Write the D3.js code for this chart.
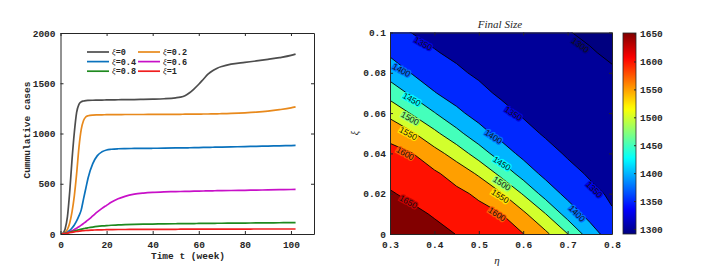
<!DOCTYPE html>
<html>
<head>
<meta charset="utf-8">
<script src="https://cdn.jsdelivr.net/npm/d3@7"></script>
<style>
  body { margin: 0; background: #fff; }
  text { font-family: "Liberation Mono", monospace; font-weight: bold; fill: #262626; }
  .domain, .tick line { stroke: #262626; }
</style>
</head>
<body>
<svg id="chart" width="701" height="278"></svg>
<script>
// ---- left panel data: cumulative cases per week, one array per xi value ----
var weeks = [1,2,3,4,5,6,7,8,9,10,11,12,14,16,18,20,22,25,28,32,36,40,45,50,52,54,56,58,60,62,64,66,68,70,74,80,85,90,95,100,102];
var xiNames = ["0", "0.2", "0.4", "0.6", "0.8", "1"];
var casesXi0  = [5,50,170,420,740,1010,1210,1290,1315,1323,1327,1329,1331,1332,1333,1334,1335,1336,1337,1338,1340,1342,1346,1355,1362,1376,1405,1445,1490,1540,1590,1625,1650,1667,1690,1708,1722,1738,1755,1777,1790];
var casesXi02 = [3,15,45,110,220,380,600,860,1040,1130,1165,1176,1183,1185,1186,1187,1188,1188,1189,1189,1189,1190,1190,1191,1191,1192,1192,1193,1193,1194,1194,1195,1196,1197,1200,1206,1213,1223,1237,1255,1265];
var casesXi04 = [2,8,18,35,60,90,130,180,240,350,455,560,700,780,818,836,843,848,850,851,852,853,854,856,857,857,858,859,860,861,862,863,864,865,867,870,872,875,877,880,881];
var casesXi06 = [2,6,12,22,32,45,58,72,88,105,122,140,180,220,255,285,315,350,375,396,407,414,419,422,423,424,425,426,427,428,429,430,431,432,433,435,437,439,441,443,444];
var casesXi08 = [2,6,11,17,23,30,36,42,48,53,58,62,69,75,80,84,87,90,93,96,98,99,101,102,103,103,104,104,105,105,106,106,107,107,108,109,110,111,112,113,114];
var casesXi1  = [2,5,9,13,17,21,25,28,31,33,35,37,39,41,42,43,44,45,45,46,46,47,47,47,48,48,48,48,48,48,49,49,49,49,49,49,50,50,50,50,50];
var weekTicks = [0, 20, 40, 60, 80, 100];
var caseTicks = [0, 500, 1000, 1500, 2000];

// ---- right panel data: final size over (eta, xi) grid, rows = xi ----
var etaValues = [0.3,0.35,0.4,0.45,0.5,0.55,0.6,0.65,0.7,0.75,0.8];
var xiValues  = [0,0.01,0.02,0.03,0.04,0.05,0.06,0.07,0.08,0.09,0.1];
var finalSize = [
  [1690,1676,1663,1649,1633,1617,1601,1561,1501,1424,1373],
  [1672,1660,1646,1630,1615,1601,1560,1501,1429,1383,1353],
  [1654,1640,1625,1611,1592,1554,1496,1430,1386,1359,1345],
  [1634,1621,1607,1581,1543,1487,1428,1387,1361,1346,1338],
  [1614,1601,1568,1528,1476,1424,1387,1362,1346,1338,1331],
  [1586,1555,1511,1464,1417,1385,1361,1346,1339,1331,1324],
  [1536,1495,1452,1410,1383,1360,1346,1339,1331,1324,1317],
  [1479,1440,1402,1380,1358,1345,1338,1331,1324,1317,1310],
  [1429,1397,1376,1355,1345,1338,1331,1324,1317,1310,1303],
  [1392,1372,1352,1344,1337,1330,1323,1316,1309,1302,1296],
  [1368,1349,1342,1336,1329,1322,1315,1308,1301,1296,1291]
];
var levels = [1300,1350,1400,1450,1500,1550,1600,1650];
var etaTicks = [0.3,0.4,0.5,0.6,0.7,0.8];
var xiTicks = [0,0.02,0.04,0.06,0.08,0.1];
var colorTicks = [1300,1350,1400,1450,1500,1550,1600,1650];
var colorRange = [1291, 1651];
// contour labels: level and where it sits (eta, xi)
var labelLevels = [1350,1300,1400,1450,1500,1550,1600,1650,1350,1400,1450,1500,1550,1600,1350,1400];
var labelEta = [0.375,0.729,0.326,0.349,0.345,0.341,0.334,0.341,0.578,0.533,0.552,0.552,0.548,0.541,0.760,0.721];
var labelXi  = [0.0945,0.0937,0.0813,0.0668,0.0574,0.0499,0.0400,0.0160,0.0598,0.0483,0.035,0.0251,0.0188,0.0098,0.0221,0.0102];

var svg = d3.select("#chart");

// ================= left panel =================
var lp = {left: 60.5, right: 314, top: 33, bottom: 234};
var xScale = d3.scaleLinear().domain([0, 110]).range([lp.left, lp.right]);
var yScale = d3.scaleLinear().domain([0, 2000]).range([lp.bottom, lp.top]);

var series = [casesXi0, casesXi02, casesXi04, casesXi06, casesXi08, casesXi1];
var lineColors = ["#4d4d4d", "#e8891c", "#0a72bd", "#c810c8", "#1f8a1f", "#f01e1e"];

// each curve starts at the origin
series.forEach(function(s, k) {
  svg.append("path")
    .datum([0].concat(s))
    .attr("fill", "none")
    .attr("stroke", lineColors[k])
    .attr("stroke-width", 1.7)
    .attr("d", d3.line()
      .x(function(d, i) { return xScale(i === 0 ? 0.5 : weeks[i - 1]); })
      .y(function(d) { return yScale(d); })
      .curve(d3.curveMonotoneX));
});

// axes with inward ticks on all four sides
function boxAxes(xs, ys, xt, yt, xfmt, yfmt, xpad, ypad) {
  svg.append("g").attr("transform", "translate(0," + ys.range()[0] + ")")
    .call(d3.axisBottom(xs).tickValues(xt).tickSizeInner(-3).tickSizeOuter(0).tickPadding(xpad).tickFormat(xfmt))
    .selectAll("text").style("font-size", "9.5px");
  svg.append("g").attr("transform", "translate(" + xs.range()[0] + ",0)")
    .call(d3.axisLeft(ys).tickValues(yt).tickSizeInner(-3).tickSizeOuter(0).tickPadding(ypad).tickFormat(yfmt))
    .selectAll("text").style("font-size", "9.5px");
  svg.append("g").attr("transform", "translate(0," + ys.range()[1] + ")")
    .call(d3.axisTop(xs).tickValues(xt).tickSizeInner(-3).tickSizeOuter(0).tickFormat(""));
  svg.append("g").attr("transform", "translate(" + xs.range()[1] + ",0)")
    .call(d3.axisRight(ys).tickValues(yt).tickSizeInner(-3).tickSizeOuter(0).tickFormat(""));
}
boxAxes(xScale, yScale, weekTicks, caseTicks, d3.format("d"), d3.format("d"), 7, 5);

svg.append("text")
  .attr("x", 188).attr("y", 259)
  .attr("text-anchor", "middle")
  .style("font-size", "9.5px")
  .text("Time t (week)");

svg.append("text")
  .attr("transform", "translate(30,130) rotate(-90)")
  .attr("text-anchor", "middle")
  .style("font-size", "9.5px")
  .text("Cummulative cases");

// legend, 2 columns x 3 rows
series.forEach(function(s, k) {
  var col = k % 2, row = Math.floor(k / 2);
  var lx = 87 + col * 51, ly = 52 + row * 9.6;
  svg.append("line")
    .attr("x1", lx).attr("x2", lx + 22).attr("y1", ly).attr("y2", ly)
    .attr("stroke", lineColors[k]).attr("stroke-width", 1.7);
  var t = svg.append("text").attr("x", lx + 25).attr("y", ly + 3).style("font-size", "8.5px");
  t.append("tspan").style("font-family", "Liberation Serif, serif").style("font-style", "italic").style("font-weight", "normal").text("ξ");
  t.append("tspan").text("=" + xiNames[k]);
});

// ================= right panel =================
var rp = {left: 390, right: 612, top: 32.5, bottom: 234};
var xr = d3.scaleLinear().domain([0.3, 0.8]).range([rp.left, rp.right]);
var yr = d3.scaleLinear().domain([0, 0.1]).range([rp.bottom, rp.top]);

function jet(t) {
  t = Math.max(0, Math.min(1, t));
  var c = function(v) { return Math.round(255 * Math.max(0, Math.min(1, v))); };
  return d3.rgb(c(1.5 - Math.abs(4 * t - 3)), c(1.5 - Math.abs(4 * t - 2)), c(1.5 - Math.abs(4 * t - 1))).formatHex();
}
var toUnit = d3.scaleLinear().domain(colorRange).range([0, 1]);

svg.append("clipPath").attr("id", "clipR")
  .append("rect").attr("x", rp.left).attr("y", rp.top)
  .attr("width", rp.right - rp.left).attr("height", rp.bottom - rp.top);

var plot = svg.append("g").attr("clip-path", "url(#clipR)");
plot.append("rect")
  .attr("x", rp.left).attr("y", rp.top)
  .attr("width", rp.right - rp.left).attr("height", rp.bottom - rp.top)
  .attr("fill", jet(0));

var nx = etaValues.length, ny = xiValues.length;
var flat = [];
finalSize.forEach(function(row) { row.forEach(function(v) { flat.push(v); }); });
var contours = d3.contours().size([nx, ny]).thresholds(levels)(flat);

var dEta = etaValues[1] - etaValues[0], dXi = xiValues[1] - xiValues[0];
var proj = d3.geoTransform({
  point: function(gx, gy) {
    this.stream.point(xr(etaValues[0] + (gx - 0.5) * dEta), yr(xiValues[0] + (gy - 0.5) * dXi));
  }
});
var path = d3.geoPath(proj);

plot.selectAll("path.band")
  .data(contours)
  .enter()
  .append("path")
  .attr("class", "band")
  .attr("d", path)
  .attr("fill", function(d) { return jet(toUnit(d.value)); })
  .attr("stroke", "#000")
  .attr("stroke-width", 0.9);

// contour labels, with a halo in the local fill colour to break the line
labelLevels.forEach(function(lv, i) {
  var px = xr(labelEta[i]), py = yr(labelXi[i]);
  var ang = i >= 14 ? 45 : (i === 1 ? 36 : (i >= 8 ? 33 : 29));
  plot.append("text")
    .attr("transform", "translate(" + px + "," + py + ") rotate(" + ang + ")")
    .attr("text-anchor", "middle")
    .attr("dy", "0.35em")
    .style("font-family", "Liberation Sans, sans-serif")
    .style("font-weight", "normal")
    .style("font-size", "8.5px")
    .style("fill", "#111")
    .style("stroke", jet(toUnit(lv - 25)))
    .style("stroke-width", 2.5)
    .style("paint-order", "stroke")
    .text(lv);
});

boxAxes(xr, yr, etaTicks, xiTicks, d3.format("~g"), d3.format("~g"), 7, 4);

svg.append("text")
  .attr("x", 500).attr("y", 28)
  .attr("text-anchor", "middle")
  .style("font-family", "Liberation Serif, serif")
  .style("font-style", "italic").style("font-weight", "normal")
  .style("font-size", "11px")
  .text("Final  Size");

svg.append("text")
  .attr("transform", "translate(358,133) rotate(-90)")
  .attr("text-anchor", "middle")
  .style("font-family", "Liberation Serif, serif")
  .style("font-style", "italic").style("font-weight", "normal")
  .style("font-size", "10px")
  .text("ξ");

svg.append("text")
  .attr("x", 497).attr("y", 264)
  .attr("text-anchor", "middle")
  .style("font-family", "Liberation Serif, serif")
  .style("font-style", "italic").style("font-weight", "normal")
  .style("font-size", "11px")
  .text("η");

// ================= colorbar =================
var cb = {left: 623, right: 636, top: 33, bottom: 234};
var cScale = d3.scaleLinear().domain(colorRange).range([cb.bottom, cb.top]);
var grad = svg.append("defs").append("linearGradient")
  .attr("id", "jetGrad").attr("x1", 0).attr("y1", 1).attr("x2", 0).attr("y2", 0);
d3.range(0, 1.0001, 0.02).forEach(function(t) {
  grad.append("stop").attr("offset", t).attr("stop-color", jet(t));
});
svg.append("rect")
  .attr("x", cb.left).attr("y", cb.top)
  .attr("width", cb.right - cb.left).attr("height", cb.bottom - cb.top)
  .attr("fill", "url(#jetGrad)")
  .attr("stroke", "#262626").attr("stroke-width", 0.8);
svg.append("g").attr("transform", "translate(" + cb.right + ",0)")
  .call(d3.axisRight(cScale).tickValues(colorTicks).tickSizeInner(-2).tickSizeOuter(0).tickPadding(4).tickFormat(d3.format("d")))
  .call(function(g) { g.select(".domain").remove(); })
  .selectAll("text").style("font-size", "9.5px");
</script>
</body>
</html>
